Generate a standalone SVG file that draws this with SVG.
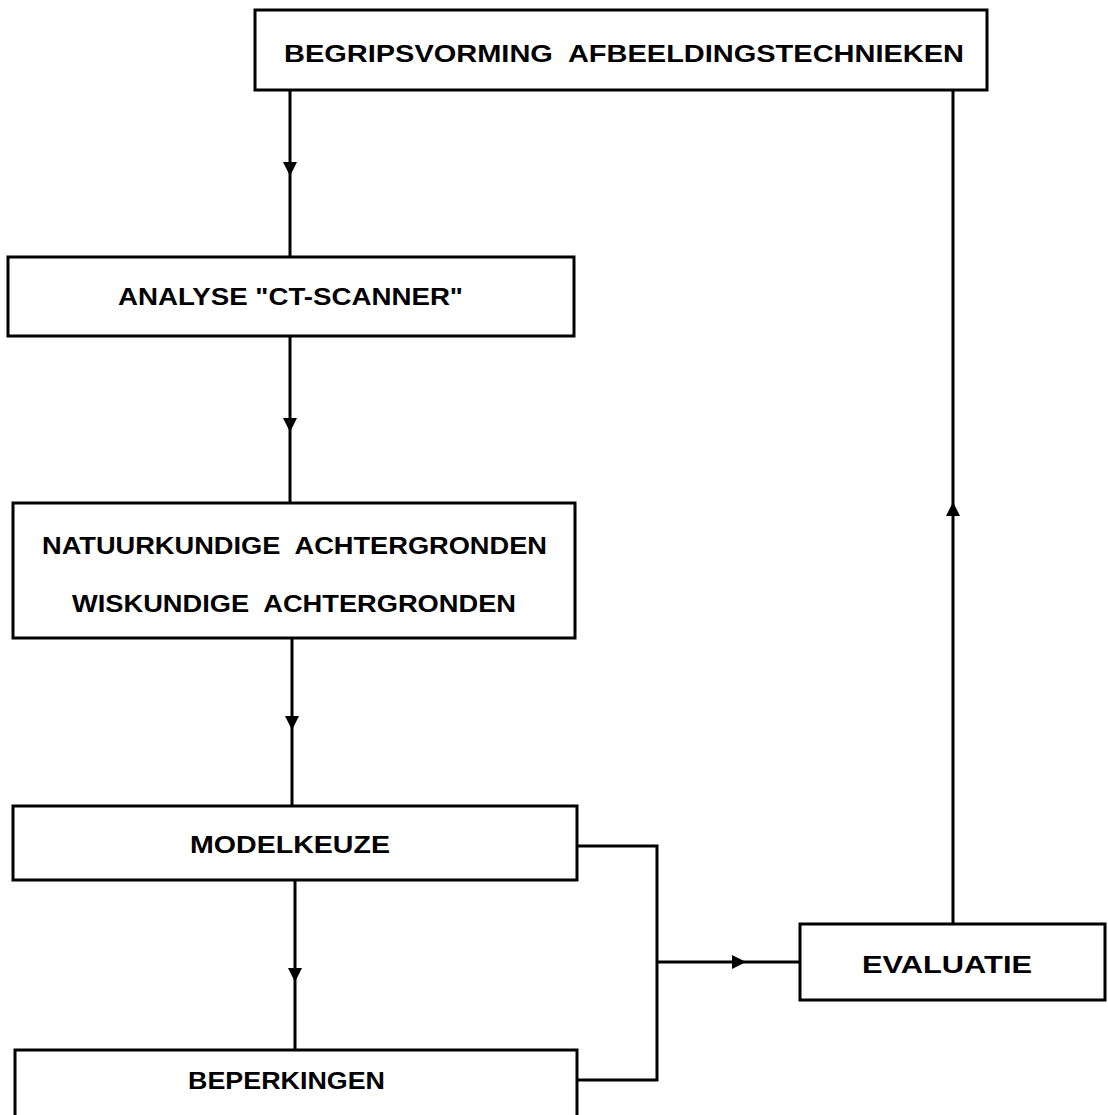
<svg xmlns="http://www.w3.org/2000/svg" width="1108" height="1115" viewBox="0 0 1108 1115">
  <style>
    .box { fill: #ffffff; stroke: #000000; stroke-width: 3; }
    .lbl { font-family: "Liberation Sans", "DejaVu Sans", sans-serif; font-weight: bold; fill: #000000; white-space: pre; }
    .conn { fill: none; stroke: #000000; stroke-width: 3; }
  </style>
  <defs>
    <marker id="arrow" viewBox="0 0 10 10" refX="10" refY="5" markerWidth="16" markerHeight="14" markerUnits="userSpaceOnUse" orient="auto">
      <path d="M0,0 L10,5 L0,10 Z" fill="#000000"/>
    </marker>
  </defs>
  <rect width="1108" height="1115" fill="#ffffff"/>

  <g id="connectors">
    <path class="conn" d="M290,90 L290,176 L290,257" marker-mid="url(#arrow)"/>
    <path class="conn" d="M290,336 L290,432 L290,503" marker-mid="url(#arrow)"/>
    <path class="conn" d="M292,638 L292,730 L292,806" marker-mid="url(#arrow)"/>
    <path class="conn" d="M295,880 L295,982 L295,1050" marker-mid="url(#arrow)"/>
    <path class="conn" d="M577,846 L657,846 L657,1080 L577,1080"/>
    <path class="conn" d="M657,962 L746,962 L800,962" marker-mid="url(#arrow)"/>
    <path class="conn" d="M953,924 L953,502 L953,90" marker-mid="url(#arrow)"/>
  </g>

  <g id="node-begripsvorming">
    <rect class="box" x="255" y="10" width="732" height="80"/>
    <text class="lbl" x="284" y="62" font-size="24" textLength="680" lengthAdjust="spacingAndGlyphs">BEGRIPSVORMING  AFBEELDINGSTECHNIEKEN</text>
  </g>

  <g id="node-analyse">
    <rect class="box" x="8" y="257" width="566" height="79"/>
    <text class="lbl" x="118" y="305" font-size="23" textLength="345" lengthAdjust="spacingAndGlyphs">ANALYSE "CT-SCANNER"</text>
  </g>

  <g id="node-achtergronden">
    <rect class="box" x="13" y="503" width="562" height="135"/>
    <text class="lbl" x="42" y="554" font-size="23" textLength="505" lengthAdjust="spacingAndGlyphs">NATUURKUNDIGE  ACHTERGRONDEN</text>
    <text class="lbl" x="72" y="612" font-size="23" textLength="444" lengthAdjust="spacingAndGlyphs">WISKUNDIGE  ACHTERGRONDEN</text>
  </g>

  <g id="node-modelkeuze">
    <rect class="box" x="13" y="806" width="564" height="74"/>
    <text class="lbl" x="190" y="853" font-size="23" textLength="200" lengthAdjust="spacingAndGlyphs">MODELKEUZE</text>
  </g>

  <g id="node-beperkingen">
    <rect class="box" x="15" y="1050" width="562" height="80"/>
    <text class="lbl" x="188" y="1089" font-size="23" textLength="197" lengthAdjust="spacingAndGlyphs">BEPERKINGEN</text>
  </g>

  <g id="node-evaluatie">
    <rect class="box" x="800" y="924" width="305" height="76"/>
    <text class="lbl" x="862" y="973" font-size="23" textLength="170" lengthAdjust="spacingAndGlyphs">EVALUATIE</text>
  </g>
</svg>
